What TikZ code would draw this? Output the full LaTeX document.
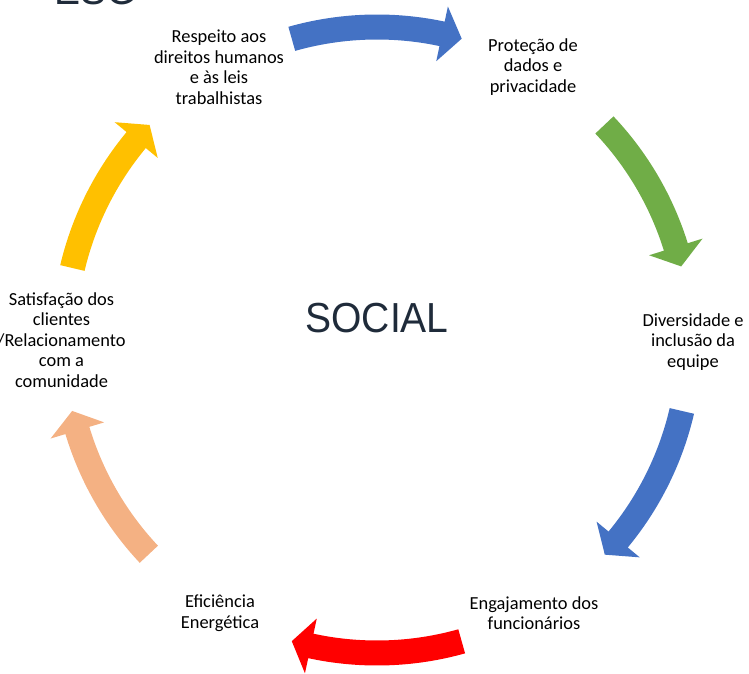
\documentclass[tikz,border=0pt]{standalone}
\usepackage{fontspec}
\setmainfont{Carlito}
\newfontfamily\headfont{Liberation Sans}
\definecolor{arrblue}{HTML}{4472C4}
\definecolor{arrgreen}{HTML}{70AD47}
\definecolor{arrred}{HTML}{FF0000}
\definecolor{arrpeach}{HTML}{F4B183}
\definecolor{arryellow}{HTML}{FFC000}
\definecolor{titlec}{HTML}{1F2B3A}
% color, tail angle, head base angle, tip angle
\newcommand\cycarrow[4]{%
  \fill[#1] (#2:325.5pt) arc[start angle=#2, end angle=#3, radius=325.5pt]
    -- (#3:341pt) -- (#4:313pt) -- (#3:285pt) -- (#3:300.5pt)
    arc[start angle=#3, end angle=#2, radius=300.5pt] -- cycle;}
\begin{document}
\begin{tikzpicture}[x=1pt,y=1pt,
  lbl/.style={align=center, inner sep=0pt, font=\fontsize{18.4}{20.5}\selectfont},
  bigtitle/.style={inner sep=0pt, text=titlec, xscale=0.93, font=\headfont\fontsize{42}{50}\selectfont}]
\useasboundingbox (-377,-333) rectangle (372,340);
% arrows
\cycarrow{arrblue}{105.8}{78.0}{74.3}
\cycarrow{arrgreen}{43.4}{17.3}{13.6}
\cycarrow{arrblue}{-13.1}{-39.6}{-43.3}
\cycarrow{arrred}{-74.3}{-102.2}{-105.8}
\cycarrow{arrpeach}{223.2}{196.8}{193.1}
\cycarrow{arryellow}{166.7}{140.3}{136.6}
% labels
\node[lbl] (resp) at (-158,273) {Respeito aos\\direitos humanos\\e às leis\\trabalhistas};
\node[lbl] (prot) at (156,273) {Proteção de\\dados e\\privacidade};
\node[lbl] (div) at (316,-2) {Diversidade e\\inclusão da\\equipe};
\node[lbl] (eng) at (157,-273) {Engajamento dos\\funcionários};
\node[lbl] (efi) at (-157,-273) {Eficiência\\Energética};
\node[lbl] (sat) at (-315.5,0) {Satisfação dos\\clientes\\/Relacionamento\\com a\\comunidade};
% titles
\node[bigtitle] (social) at (0,22.3) {SOCIAL};
\node[bigtitle, anchor=base] (esg) at (-281,335) {ESG};
\end{tikzpicture}
\end{document}
